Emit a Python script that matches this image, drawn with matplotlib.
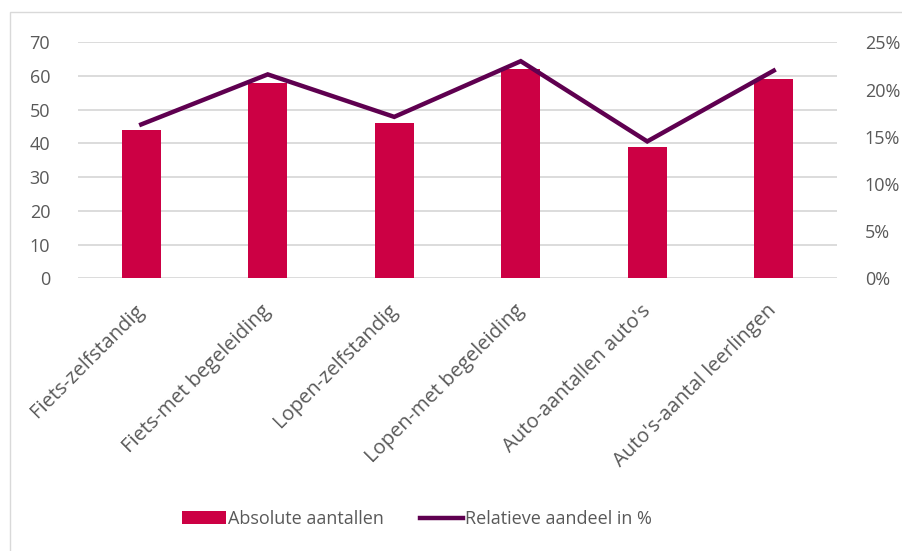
import matplotlib.pyplot as plt
from matplotlib.patches import Rectangle
from matplotlib.transforms import ScaledTranslation

categories = ['Fiets-zelfstandig', 'Fiets-met begeleiding', 'Lopen-zelfstandig',
              'Lopen-met begeleiding', "Auto-aantallen auto's", "Auto's-aantal leerlingen"]
absolute = [44, 58, 46, 62, 39, 59]
relative = [16.3, 21.6, 17.1, 23.0, 14.5, 22.0]

plt.rcParams['font.family'] = ['Open Sans', 'DejaVu Sans']
txt = '#595959'

fig = plt.figure(figsize=(9.03, 5.51), dpi=100)
# chart area border
fig.patches.append(Rectangle((10 / 903, -0.1), 1.2, (551 - 12) / 551 + 0.1,
                             transform=fig.transFigure, fill=False,
                             edgecolor='#D9D9D9', linewidth=1))

ax = fig.add_axes([78 / 903, (551 - 278.3) / 551, (837 - 78) / 903, 236 / 551])
x = range(len(categories))
bars = ax.bar(x, absolute, width=0.31, color='#CC0044', zorder=2, label='Absolute aantallen')
ax.set_xlim(-0.5, 5.5)
ax.set_ylim(0, 70)
ax.set_yticks(range(0, 71, 10))
ax.grid(axis='y', color='#D9D9D9', linewidth=1.3, zorder=0)
for s in ax.spines.values():
    s.set_visible(False)
ax.tick_params(length=0, labelsize=13, colors=txt, pad=20)
ax.tick_params(axis='x', pad=14, labelsize=14.5)
ax.set_xticks(list(x))
ax.set_xticklabels(categories, rotation=45, ha='right', rotation_mode='anchor')
shift = ScaledTranslation(-0.07, -0.03, fig.dpi_scale_trans)
for lab in ax.get_xticklabels():
    lab.set_transform(lab.get_transform() + shift)

ax2 = ax.twinx()
line, = ax2.plot(x, relative, color='#5F0050', linewidth=3.2, zorder=3,
                 solid_joinstyle='miter', label='Relatieve aandeel in %')
ax2.set_ylim(0, 25)
ax2.set_yticks(range(0, 26, 5))
ax2.set_yticklabels([f'{v}%' for v in range(0, 26, 5)])
for s in ax2.spines.values():
    s.set_visible(False)
ax2.tick_params(length=0, labelsize=13, colors=txt, pad=20)

fig.legend([bars, line], ['Absolute aantallen', 'Relatieve aandeel in %'],
           loc='center', bbox_to_anchor=(417 / 903, 1 - 519 / 551), ncol=2, frameon=False,
           fontsize=13, labelcolor=txt, handlelength=2.4, handletextpad=0.1,
           columnspacing=2.0)

fig.savefig('out.png', dpi=100)
